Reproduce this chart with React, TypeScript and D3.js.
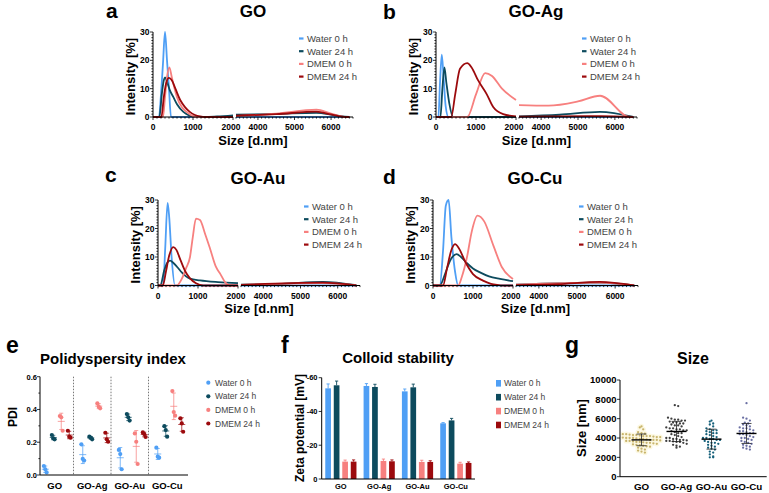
import React from 'react';
import * as d3 from 'd3';

const FONT = "Arial, 'Liberation Sans', Helvetica, sans-serif";

const seriesNames = ['Water 0 h', 'Water 24 h', 'DMEM 0 h', 'DMEM 24 h'];
const seriesColors = ['#4f9ff5', '#0d4b5e', '#f7807f', '#9c0a0d'];

// ---------- DLS distributions: [size d.nm, intensity %] ----------
const goWater0 = [[0,0],[150,0],[200,8],[250,19],[300,30],[350,20],[400,10],[450,0],[2000,0],[3400,0],[6500,0]];
const goWater24 = [[0,0],[160,0],[220,8],[270,13],[300,14],[350,12.5],[420,9.5],[510,7],[600,4.5],[760,1.8],[900,0.6],[1010,0.2],[1100,0],[1300,0],[1600,0.2],[2000,0.6],[3400,0.8],[4500,1.1],[5600,1.5],[6100,0.6],[6500,0]];
const goDmem0 = [[0,0],[250,0],[300,7],[350,14],[410,17.5],[470,14],[540,10],[600,7],[720,3.5],[840,1.8],[1000,0.3],[1100,0],[2000,0],[3400,0.3],[4500,1.2],[5600,2.6],[6000,1.2],[6400,0],[6500,0]];
const goDmem24 = [[0,0],[210,0],[270,7],[330,12],[400,13.8],[470,13],[560,10],[680,6],[800,3.5],[920,1.8],[1050,0.7],[1180,0.2],[1300,0],[2000,0],[3400,0.5],[4500,1],[5600,1.9],[6000,0.9],[6400,0],[6500,0]];

const agWater0 = [[0,0],[60,0],[100,12],[145,22],[190,14],[240,4],[310,0],[2000,0],[3400,0],[6500,0]];
const agWater24 = [[0,0],[110,0],[160,10],[210,17.5],[260,12],[330,5],[430,0],[2000,0],[3400,0.2],[4500,0.8],[5600,1.8],[6500,0]];
const agDmem0 = [[0,0],[780,0],[1000,8],[1230,15.5],[1400,14.5],[1650,10],[2000,6],[3400,4.2],[4200,4],[5000,5.5],[5600,7.5],[6400,0],[6500,0]];
const agDmem24 = [[0,0],[380,0],[480,8],[600,17],[780,19],[890,17.5],[1050,13],[1270,8],[1430,3.5],[1680,1],[2000,0.2],[3400,0.1],[5600,0.3],[6500,0]];

const auWater0 = [[0,0],[130,0],[180,13],[240,29],[280,24],[340,10],[425,0],[2000,0],[3400,0],[6500,0]];
const auWater24 = [[0,0],[60,0],[150,5],[230,8],[300,8.7],[380,8],[480,6.5],[600,4.5],[700,3.2],[800,2.4],[1050,1.8],[1500,1.2],[2000,0.8],[3400,0.3],[4500,0.6],[5600,1.3],[6500,0.1]];
const auDmem0 = [[0,0],[470,0],[600,2.5],[700,6],[800,10],[870,17],[950,23.5],[1050,23],[1180,18],[1300,13],[1450,6.5],[1560,4],[1675,1.2],[1800,0],[2000,0],[3400,0.2],[5600,0.8],[6500,0]];
const auDmem24 = [[0,0],[120,0],[200,5],[280,10.5],[380,13.5],[460,12.5],[560,9],[680,5],[800,2.5],[950,0.8],[1130,0],[2000,0],[3400,0.2],[5600,1],[6500,0]];

const cuWater0 = [[0,0],[170,0],[250,12],[320,28],[390,30],[460,17],[550,5],[630,0],[2000,0],[3400,0],[6500,0]];
const cuWater24 = [[0,0],[170,0],[300,4],[420,8.5],[590,11],[700,10],[850,7.8],[1000,6],[1175,4.6],[1400,3.2],[1675,2.3],[2000,1.5],[3400,0.3],[5600,1],[6500,0]];
const cuDmem0 = [[0,0],[630,0],[720,3],[850,10],[970,19],[1110,24.5],[1280,22.5],[1510,14],[1720,6.5],[2000,2.3],[3400,0.3],[5600,1],[6500,0]];
const cuDmem24 = [[0,0],[250,0],[350,6],[450,12],[550,14.5],[650,13],[800,8.5],[1000,4],[1250,1.7],[1450,0.6],[1600,0.2],[1750,0],[2000,0],[3400,0.1],[4500,0.5],[5600,1.3],[6500,0]];

const dlsTicksLeft = [0, 1000, 2000];
const dlsTicksRight = [4000, 5000, 6000];
const dlsTicksY = [0, 10, 20, 30];

// ---------- shared categories ----------
const groups = ['GO', 'GO-Ag', 'GO-Au', 'GO-Cu'];

// ---------- PDI replicates ----------
const pdiWater0 = [[0.055, 0.035, 0.016], [0.187, 0.098, 0.088], [0.153, 0.128, 0.035], [0.167, 0.112, 0.106]];
const pdiWater24 = [[0.244, 0.224, 0.218], [0.234, 0.228, 0.218], [0.372, 0.352, 0.332], [0.298, 0.274, 0.234]];
const pdiDmem0 = [[0.36, 0.352, 0.27], [0.437, 0.417, 0.407], [0.254, 0.203, 0.067], [0.512, 0.384, 0.362]];
const pdiDmem24 = [[0.27, 0.234, 0.228], [0.258, 0.218, 0.203], [0.26, 0.25, 0.232], [0.346, 0.315, 0.264]];
const pdiTicks = [0, 0.2, 0.4, 0.6];

// ---------- Zeta potential ----------
const zetaWater0 = [-53.7, -55.1, -51.9, -33.0];
const zetaWater0Sd = [2.6, 1.4, 1.4, 0.4];
const zetaWater24 = [-55.5, -54.5, -54.3, -34.7];
const zetaWater24Sd = [2.5, 1.6, 1.9, 1.2];
const zetaDmem0 = [-10.3, -10.7, -10.1, -9.1];
const zetaDmem0Sd = [0.9, 1.1, 1.0, 0.8];
const zetaDmem24 = [-10.3, -10.5, -10.1, -9.5];
const zetaDmem24Sd = [1.0, 0.8, 0.7, 0.6];
const zetaTicks = [0, -20, -40, -60];

// ---------- Size (nm) ----------
const sizeGO = [5200,5100,4900,4600,4500,4450,4400,4400,4350,4300,4300,4250,4200,4200,4200,4150,4100,4100,4050,4000,4000,4000,3950,3900,3900,3850,3800,3800,3800,3750,3700,3700,3650,3600,3600,3550,3500,3500,3450,3400,3350,3300,3250,3200,3150,3100,3000,2900,2800,2700,2600,2500];
const sizeGOAg = [7400,7300,6100,6000,5900,5900,5800,5800,5700,5600,5600,5500,5500,5400,5300,5300,5200,5100,5000,5000,4900,4900,4800,4800,4700,4600,4500,4500,4400,4300,4200,4100,4000,4000,3900,3900,3800,3800,3750,3700,3700,3650,3600,3600,3500,3400,3300,3200,3100,3000];
const sizeGOAu = [5800,5700,5500,5400,5200,5000,4900,4800,4800,4700,4600,4500,4500,4400,4300,4200,4100,4000,4000,3900,3900,3800,3800,3700,3600,3500,3500,3400,3300,3200,3100,3000,2900,2800,2600,2500,2300,2100,2000,2000];
const sizeGOCu = [7600,6100,6000,5800,5600,5500,5400,5300,5200,5100,5000,5000,4900,4800,4700,4700,4600,4500,4500,4400,4400,4300,4200,4100,4000,4000,3900,3800,3700,3600,3500,3400,3300,3200,3100,3000,2900,2800];
const sizeColors = ['#c8b46c', '#3e3e3e', '#15607a', '#6a6fa3'];
const sizeTicks = [0, 2000, 4000, 6000, 8000, 10000];

function DLSPanel(props: any) {
  const { ax, w, yTop, yBase, title, titleX, titleY, letter, letterX, letterY, data } = props;
  const leftW = 80, gap = 3;
  const xL = d3.scaleLinear().domain([0, 2000]).range([ax, ax + leftW]);
  const xR = d3.scaleLinear().domain([3400, 6600]).range([ax + leftW + gap, ax + w]);
  const y = d3.scaleLinear().domain([0, 30]).range([yBase, yTop]);
  const lineL = d3.line<any>().x((d) => xL(d[0])).y((d) => y(d[1])).curve(d3.curveMonotoneX);
  const lineR = d3.line<any>().x((d) => xR(d[0])).y((d) => y(d[1])).curve(d3.curveMonotoneX);
  const minorL = d3.range(0, 2001, 100);
  const minorR = d3.range(3400, 6601, 100);
  const minorY = d3.range(0, 31, 1);
  return (
    <g>
      <text x={letterX} y={letterY} fontSize={21} fontWeight="bold">{letter}</text>
      <text x={titleX} y={titleY} textAnchor="middle" fontSize={17} fontWeight="bold">{title}</text>
      {data.map((s: any, i: number) => (
        <g key={i} fill="none" stroke={seriesColors[i]} strokeWidth={1.8}>
          <path d={lineL(s.filter((p: any) => p[0] <= 2000)) || ''} />
          <path d={lineR(s.filter((p: any) => p[0] >= 3000)) || ''} />
        </g>
      ))}
      {/* y axis */}
      <line x1={ax} x2={ax} y1={yBase} y2={yTop} stroke="#000" strokeWidth={1} />
      {minorY.map((t) => (
        <line key={'my' + t} x1={ax - (t % 10 === 0 ? 3 : 1.6)} x2={ax} y1={y(t)} y2={y(t)} stroke="#000" strokeWidth={0.8} />
      ))}
      {dlsTicksY.map((t) => (
        <text key={'ty' + t} x={ax - 3.5} y={y(t) + 3} textAnchor="end" fontSize={8.5} fontWeight="bold">{t}</text>
      ))}
      {/* x axis (broken) */}
      <line x1={ax} x2={ax + leftW} y1={yBase} y2={yBase} stroke="#000" strokeWidth={1} />
      <line x1={ax + leftW + gap} x2={ax + w} y1={yBase} y2={yBase} stroke="#000" strokeWidth={1} />
      {minorL.map((t) => (
        <line key={'ml' + t} x1={xL(t)} x2={xL(t)} y1={yBase} y2={yBase + (t % 1000 === 0 ? 3 : 1.6)} stroke="#000" strokeWidth={0.8} />
      ))}
      {minorR.map((t) => (
        <line key={'mr' + t} x1={xR(t)} x2={xR(t)} y1={yBase} y2={yBase + (t % 1000 === 0 ? 3 : 1.6)} stroke="#000" strokeWidth={0.8} />
      ))}
      {dlsTicksLeft.map((t) => (
        <text key={'tl' + t} x={xL(t) - (t === 2000 ? 2 : 0)} y={yBase + 13} textAnchor="middle" fontSize={8.5} fontWeight="bold">{t}</text>
      ))}
      {dlsTicksRight.map((t) => (
        <text key={'tr' + t} x={xR(t)} y={yBase + 13} textAnchor="middle" fontSize={8.5} fontWeight="bold">{t}</text>
      ))}
      <text x={ax + w / 2} y={yBase + 27.5} textAnchor="middle" fontSize={13} fontWeight="bold">Size [d.nm]</text>
      <text transform={`translate(${ax - 18},${(yTop + yBase) / 2 + 2}) rotate(-90)`} textAnchor="middle" fontSize={13} fontWeight="bold">Intensity [%]</text>
      {/* legend */}
      {seriesNames.map((n, i) => (
        <g key={n}>
          <line x1={ax + 146} x2={ax + 150.5} y1={yTop + 6.5 + i * 12.7} y2={yTop + 6.5 + i * 12.7} stroke={seriesColors[i]} strokeWidth={2.2} />
          <text x={ax + 154} y={yTop + 6.5 + i * 12.7 + 3.4} fontSize={9.5} fill="#444">{n}</text>
        </g>
      ))}
    </g>
  );
}

function PDIPanel() {
  const xb = d3.scaleBand().domain(groups).range([36, 186]);
  const y = d3.scaleLinear().domain([0, 0.6]).range([475, 376.7]);
  const series = [pdiWater0, pdiWater24, pdiDmem0, pdiDmem24];
  const minor = d3.range(0, 0.61, 0.1);
  return (
    <g>
      <text x={6} y={353} fontSize={23} fontWeight="bold">e</text>
      <text x={113} y={363.5} textAnchor="middle" fontSize={15} fontWeight="bold">Polidyspersity index</text>
      {groups.slice(1).map((g) => (
        <line key={g} x1={xb(g)!} x2={xb(g)!} y1={y(0.6)} y2={y(0)} stroke="#555" strokeWidth={0.8} strokeDasharray="1.5,1.5" />
      ))}
      {series.map((ser, si) =>
        ser.map((reps, gi) => {
          const cx = xb(groups[gi])! + xb.bandwidth() / 2 + 2.5 + (si - 1.5) * 8;
          const m = d3.mean(reps)!;
          const sd = d3.deviation(reps)!;
          const col = seriesColors[si];
          return (
            <g key={si + '-' + gi}>
              <line x1={cx} x2={cx} y1={y(m - sd)} y2={y(m + sd)} stroke={col} strokeWidth={0.9} opacity={0.8} />
              <line x1={cx - 2} x2={cx + 2} y1={y(m - sd)} y2={y(m - sd)} stroke={col} strokeWidth={0.9} opacity={0.8} />
              <line x1={cx - 2} x2={cx + 2} y1={y(m + sd)} y2={y(m + sd)} stroke={col} strokeWidth={0.9} opacity={0.8} />
              <line x1={cx - 3.5} x2={cx + 3.5} y1={y(m)} y2={y(m)} stroke={col} strokeWidth={0.9} opacity={0.8} />
              {reps.map((v, ri) => (
                <circle key={ri} cx={cx + (ri - 1) * 1.4} cy={y(v)} r={2.1} fill={col} />
              ))}
            </g>
          );
        })
      )}
      <line x1={40} x2={40} y1={y(0)} y2={y(0.6)} stroke="#000" strokeWidth={1} />
      <line x1={40} x2={188} y1={y(0)} y2={y(0)} stroke="#000" strokeWidth={1} />
      {minor.map((t, i) => (
        <line key={'m' + i} x1={40 - (i % 2 === 0 ? 3 : 1.6)} x2={40} y1={y(t)} y2={y(t)} stroke="#000" strokeWidth={0.8} />
      ))}
      {pdiTicks.map((t) => (
        <text key={t} x={37} y={y(t) + 2.8} textAnchor="end" fontSize={7.5} fontWeight="bold">{d3.format('.1f')(t)}</text>
      ))}
      {groups.map((g) => (
        <text key={g} x={xb(g)! + xb.bandwidth() / 2} y={489} textAnchor="middle" fontSize={9.5} fontWeight="bold">{g}</text>
      ))}
      <text transform="translate(17,417) rotate(-90)" textAnchor="middle" fontSize={12} fontWeight="bold">PDI</text>
      {seriesNames.map((n, i) => (
        <g key={n}>
          <circle cx={208.3} cy={382.7 + i * 13.6} r={2.1} fill={seriesColors[i]} />
          <text x={215} y={382.7 + i * 13.6 + 3} fontSize={8.5} fill="#444">{n}</text>
        </g>
      ))}
    </g>
  );
}

function ZetaPanel() {
  const xb = d3.scaleBand().domain(groups).range([321.7, 475]);
  const y = d3.scaleLinear().domain([0, -60]).range([479, 377.7]);
  const vals = [zetaWater0, zetaWater24, zetaDmem0, zetaDmem24];
  const sds = [zetaWater0Sd, zetaWater24Sd, zetaDmem0Sd, zetaDmem24Sd];
  const bw = 5.7;
  return (
    <g>
      <text x={281} y={353} fontSize={23} fontWeight="bold">f</text>
      <text x={398} y={363} textAnchor="middle" fontSize={15} fontWeight="bold">Colloid stability</text>
      {vals.map((ser, si) =>
        ser.map((v, gi) => {
          const cx = xb(groups[gi])! + xb.bandwidth() / 2 + (si - 1.5) * 8.5;
          const col = seriesColors[si];
          const top = y(v - sds[si][gi]);
          return (
            <g key={si + '-' + gi}>
              <rect x={cx - bw / 2} y={y(v)} width={bw} height={y(0) - y(v)} fill={col} />
              <line x1={cx} x2={cx} y1={y(v)} y2={top} stroke={col} strokeWidth={0.9} />
              <line x1={cx - 1.6} x2={cx + 1.6} y1={top} y2={top} stroke={col} strokeWidth={0.9} />
            </g>
          );
        })
      )}
      <line x1={321.7} x2={321.7} y1={y(0)} y2={y(-60)} stroke="#000" strokeWidth={1} />
      <line x1={321.7} x2={475} y1={y(0)} y2={y(0)} stroke="#000" strokeWidth={1} />
      {zetaTicks.map((t) => (
        <g key={t}>
          <line x1={318.7} x2={321.7} y1={y(t)} y2={y(t)} stroke="#000" strokeWidth={0.8} />
          <text x={317.5} y={y(t) + 2.7} textAnchor="end" fontSize={7.5} fontWeight="bold">{t}</text>
        </g>
      ))}
      {groups.map((g) => (
        <text key={g} x={xb(g)! + xb.bandwidth() / 2} y={488.5} textAnchor="middle" fontSize={7.5} fontWeight="bold">{g}</text>
      ))}
      <text transform="translate(304,428) rotate(-90)" textAnchor="middle" fontSize={12} fontWeight="bold">Zeta potential [mV]</text>
      {seriesNames.map((n, i) => (
        <g key={n}>
          <rect x={496} y={383.3 + i * 13.9 - 3.3} width={5} height={6.6} fill={seriesColors[i]} />
          <text x={504} y={383.3 + i * 13.9 + 3} fontSize={8.5} fill="#444">{n}</text>
        </g>
      ))}
    </g>
  );
}

function SizePanel() {
  const xb = d3.scaleBand().domain(groups).range([624, 764]);
  const y = d3.scaleLinear().domain([0, 10000]).range([476.7, 380]);
  const sets = [sizeGO, sizeGOAg, sizeGOAu, sizeGOCu];
  const rowH = 3.3, dx = 3.4;
  return (
    <g>
      <text x={565} y={353} fontSize={23} fontWeight="bold">g</text>
      <text x={693} y={364} textAnchor="middle" fontSize={16} fontWeight="bold">Size</text>
      {sets.map((vals, gi) => {
        const cx = xb(groups[gi])! + xb.bandwidth() / 2;
        const rows = d3.groups(vals, (v) => Math.round(y(v) / rowH));
        const pts: any[] = [];
        rows.forEach(([, rv]) => {
          rv.forEach((v, j) => pts.push({ x: cx + (j - (rv.length - 1) / 2) * dx, y: y(v) }));
        });
        const m = d3.mean(vals)!;
        const sd = d3.deviation(vals)!;
        return (
          <g key={gi}>
            {gi === 0 && pts.map((p, k) => <circle key={'h' + k} cx={p.x} cy={p.y} r={2.6} fill="#fcf8e2" />)}
            {pts.map((p, k) => <circle key={k} cx={p.x} cy={p.y} r={1.15} fill={sizeColors[gi]} />)}
            <line x1={cx} x2={cx} y1={y(m - sd)} y2={y(m + sd)} stroke="#222" strokeWidth={0.8} />
            <line x1={cx - 5} x2={cx + 5} y1={y(m - sd)} y2={y(m - sd)} stroke="#222" strokeWidth={0.8} />
            <line x1={cx - 5} x2={cx + 5} y1={y(m + sd)} y2={y(m + sd)} stroke="#222" strokeWidth={0.8} />
            <line x1={cx - 10} x2={cx + 10} y1={y(m)} y2={y(m)} stroke="#000" strokeWidth={1.4} />
          </g>
        );
      })}
      <line x1={620} x2={620} y1={y(0)} y2={y(10000)} stroke="#000" strokeWidth={1} />
      <line x1={620} x2={766.7} y1={y(0)} y2={y(0)} stroke="#000" strokeWidth={1} />
      {sizeTicks.map((t) => (
        <g key={t}>
          <line x1={617} x2={620} y1={y(t)} y2={y(t)} stroke="#000" strokeWidth={0.8} />
          <text x={616.5} y={y(t) + 3.2} textAnchor="end" fontSize={9.5} fontWeight="bold">{t}</text>
        </g>
      ))}
      {groups.map((g) => (
        <text key={g} x={xb(g)! + xb.bandwidth() / 2} y={489.5} textAnchor="middle" fontSize={9.8} fontWeight="bold">{g}</text>
      ))}
      <text transform="translate(586,428) rotate(-90)" textAnchor="middle" fontSize={13} fontWeight="bold">Size [nm]</text>
    </g>
  );
}

export default function App() {
  return (
    <svg width={769} height={493} style={{ position: 'absolute', left: 0, top: 0, background: '#fff' }} fontFamily={FONT}>
      <rect width={769} height={493} fill="#fff" />
      <DLSPanel ax={153} w={200} yTop={32} yBase={117} title="GO" titleX={253} titleY={17} letter="a" letterX={106} letterY={18}
        data={[goWater0, goWater24, goDmem0, goDmem24]} />
      <DLSPanel ax={436} w={201} yTop={32} yBase={117} title="GO-Ag" titleX={536} titleY={17} letter="b" letterX={383} letterY={19}
        data={[agWater0, agWater24, agDmem0, agDmem24]} />
      <DLSPanel ax={158} w={202} yTop={200} yBase={285.5} title="GO-Au" titleX={258} titleY={184} letter="c" letterX={105} letterY={182}
        data={[auWater0, auWater24, auDmem0, auDmem24]} />
      <DLSPanel ax={433} w={205} yTop={200} yBase={285.5} title="GO-Cu" titleX={535} titleY={184} letter="d" letterX={383} letterY={184}
        data={[cuWater0, cuWater24, cuDmem0, cuDmem24]} />
      <PDIPanel />
      <ZetaPanel />
      <SizePanel />
    </svg>
  );
}
